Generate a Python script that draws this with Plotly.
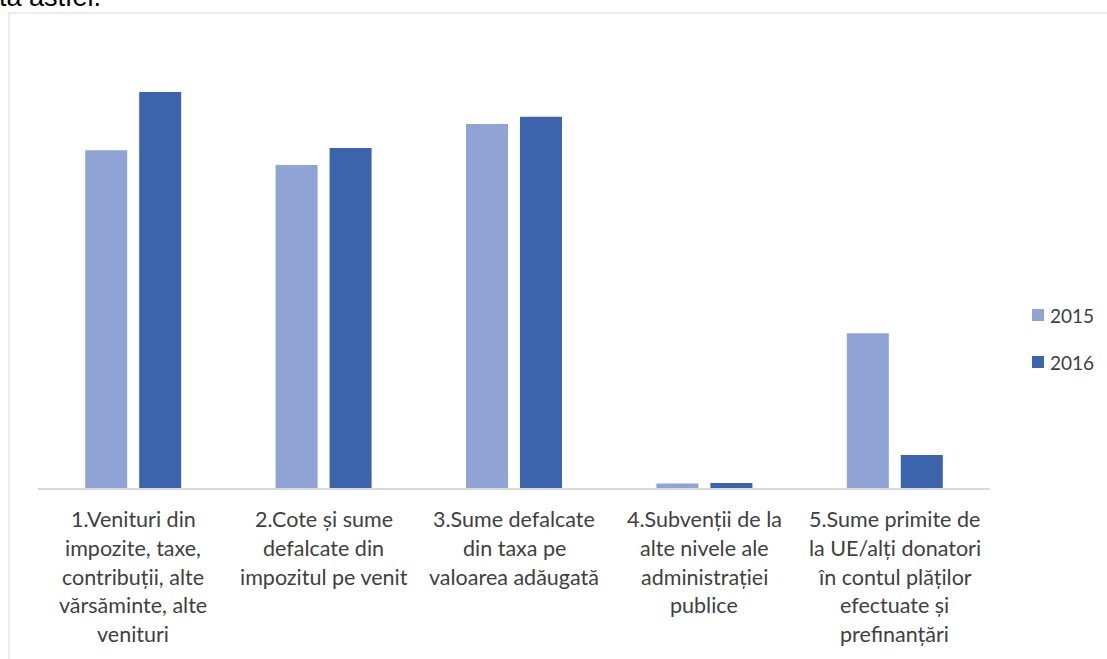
import plotly.graph_objects as go

# ---- data ----
categories = [
    "1.Venituri din<br>impozite, taxe,<br>contribuții, alte<br>vărsăminte, alte<br>venituri",
    "2.Cote și sume<br>defalcate din<br>impozitul pe venit",
    "3.Sume defalcate<br>din taxa pe<br>valoarea adăugată",
    "4.Subvenții de la<br>alte nivele ale<br>administrației<br>publice",
    "5.Sume primite de<br>la UE/alți donatori<br>în contul plăților<br>efectuate și<br>prefinanțări",
]
series_names = ["2015", "2016"]
values_2015 = [337.7, 323.0, 364.0, 4.5, 154.7]
values_2016 = [396.0, 340.0, 371.3, 5.0, 33.0]
colors = ["#8FA4D4", "#3C64AD"]

W_FIG, H_FIG = 1107, 659
L, R, T, B = 38, 990, 12, 488   # plot area pixel bounds
PW, PH = R - L, B - T

def px_x(p):
    return (p - L) / PW

def px_y(p):
    return (B - p) / PH

cat_ids = list(range(len(categories)))

fig = go.Figure()
for name, vals, col in zip(series_names, [values_2015, values_2016], colors):
    fig.add_trace(go.Bar(x=cat_ids, y=vals, name=name, marker_color=col,
                         marker_line_width=0, showlegend=False))

font_family = "Lato, 'Open Sans', sans-serif"
text_col = "#404040"

annotations = []
# category labels, one annotation per line for exact line spacing
first_center = 519
line_step = 28.75
for i, lab in enumerate(categories):
    for k, line in enumerate(lab.split("<br>")):
        annotations.append(dict(
            x=i, xref="x", y=px_y(first_center + k * line_step), yref="paper",
            text=line, showarrow=False, xanchor="center", yanchor="middle",
            font=dict(family=font_family, size=21.5, color=text_col)))

# legend (manual)
shapes = []
leg_centers = [315, 362]
for name, col, cy in zip(series_names, colors, leg_centers):
    shapes.append(dict(type="rect", xref="paper", yref="paper",
                       x0=px_x(1032), x1=px_x(1044), y0=px_y(cy + 6), y1=px_y(cy - 6),
                       fillcolor=col, line_width=0))
    annotations.append(dict(x=px_x(1048), xref="paper", y=px_y(cy), yref="paper",
                            text=name, showarrow=False, xanchor="left", yanchor="middle",
                            font=dict(family=font_family, size=19, color=text_col)))

# chart frame
shapes.append(dict(type="rect", xref="paper", yref="paper",
                   x0=px_x(9), x1=px_x(1300), y0=px_y(900), y1=px_y(13),
                   line=dict(color="#D9D9D9", width=1), fillcolor="rgba(0,0,0,0)",
                   layer="below"))

# clipped document text above the chart
annotations.append(dict(x=px_x(-3), xref="paper", y=px_y(-3), yref="paper",
                        text="ta astfel.", showarrow=False, xanchor="left", yanchor="middle",
                        font=dict(family="Liberation Sans, Arial", size=27, color="#000000")))

fig.update_layout(
    width=W_FIG, height=H_FIG,
    margin=dict(l=L, r=W_FIG - R, t=T, b=H_FIG - B, pad=0),
    paper_bgcolor="white", plot_bgcolor="white",
    barmode="group", bargap=0.433, bargroupgap=0.222,
    showlegend=False,
    xaxis=dict(range=[-0.5, len(categories) - 0.5], showticklabels=False, ticks="",
               showgrid=False, zeroline=False, showline=True,
               linecolor="#D9D9D9", linewidth=2),
    yaxis=dict(range=[0, PH], visible=False, showgrid=False, zeroline=False),
    annotations=annotations, shapes=shapes,
)

fig.write_html("out.html")
